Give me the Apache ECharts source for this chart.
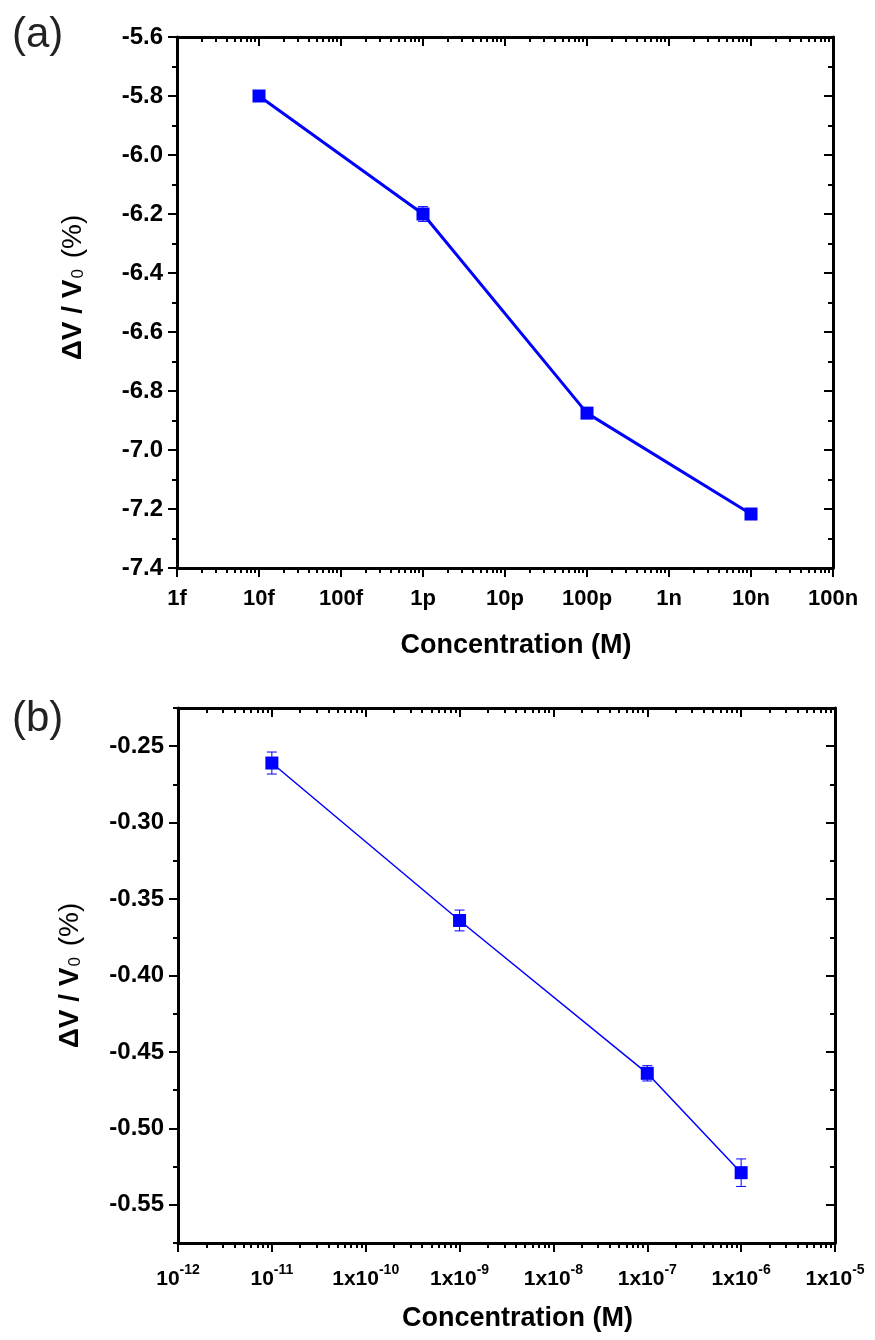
<!DOCTYPE html>
<html>
<head>
<meta charset="utf-8">
<script src="https://cdn.jsdelivr.net/npm/echarts@6/dist/echarts.min.js"></script>
<style>
  html, body { margin: 0; padding: 0; background: #fff; }
  #chart { width: 875px; height: 1340px; }
</style>
</head>
<body>
<div id="chart"></div>
<script>
  // panel (a)
  const topConc = [1e-14, 1e-12, 1e-10, 1e-8];
  const topDV = [-5.80, -6.20, -6.875, -7.217];
  const topErr = [0.01, 0.025, 0.015, 0.01];
  const topExps = [-15, -14, -13, -12, -11, -10, -9, -8, -7];
  const topTickLabels = ['1f', '10f', '100f', '1p', '10p', '100p', '1n', '10n', '100n'];
  const topYTicks = [-7.4, -7.2, -7.0, -6.8, -6.6, -6.4, -6.2, -6.0, -5.8, -5.6];

  // panel (b)
  const botConc = [1e-11, 1e-9, 1e-7, 1e-6];
  const botDV = [-0.261, -0.364, -0.464, -0.529];
  const botErr = [0.0072, 0.0068, 0.005, 0.009];
  const botExps = [-12, -11, -10, -9, -8, -7, -6, -5];
  const botTickLabels = ['10', '10', '1x10', '1x10', '1x10', '1x10', '1x10', '1x10'];
  const botYTicks = [-0.55, -0.50, -0.45, -0.40, -0.35, -0.30, -0.25];
  const botYMinor = [-0.575, -0.525, -0.475, -0.425, -0.375, -0.325, -0.275, -0.225];

  const BLUE = '#0000ff';
  const FONT = '"Liberation Sans", Arial, sans-serif';

  const majors = (exps) => exps.map((e) => Math.pow(10, e));
  const minors = (exps) => {
    const out = [];
    for (let i = 0; i < exps.length - 1; i++) {
      for (let k = 2; k <= 9; k++) out.push(k * Math.pow(10, exps[i]));
    }
    return out;
  };
  const expOf = (v) => Math.round(Math.log10(v));

  const axisLine = { show: true, lineStyle: { color: '#000', width: 3 } };
  const noLine = { show: false };

  // one log x axis (major or minor ticks, bottom or top)
  const logX = (grid, exps, pos, minor, label) => ({
    type: 'log',
    logBase: 10,
    gridIndex: grid,
    position: pos,
    min: Math.pow(10, exps[0]),
    max: Math.pow(10, exps[exps.length - 1]),
    axisLine: minor ? noLine : axisLine,
    splitLine: { show: false },
    minorTick: { show: false },
    axisTick: {
      show: true,
      inside: pos === 'top',
      length: minor ? 5 : 9,
      lineStyle: { color: '#000', width: 2 },
      customValues: minor ? minors(exps) : majors(exps),
    },
    axisLabel: label
      ? Object.assign({ show: true, customValues: majors(exps) }, label)
      : { show: false },
  });

  const topXLabel = {
    margin: 20,
    color: '#000',
    fontFamily: FONT,
    fontWeight: 'bold',
    fontSize: 22,
    formatter: (v) => topTickLabels[topExps.indexOf(expOf(v))],
  };
  const botXLabel = {
    margin: 20,
    color: '#000',
    formatter: (v) => {
      const e = expOf(v);
      return '{b|' + botTickLabels[botExps.indexOf(e)] + '}{s|' + e + '}';
    },
    rich: {
      b: { fontFamily: FONT, fontWeight: 'bold', fontSize: 21, color: '#000', lineHeight: 27, verticalAlign: 'bottom' },
      s: { fontFamily: FONT, fontWeight: 'bold', fontSize: 14, color: '#000', lineHeight: 14, verticalAlign: 'top' },
    },
  };

  const xName = (gap) => ({
    name: 'Concentration (M)',
    nameLocation: 'middle',
    nameGap: gap,
    nameTextStyle: { fontFamily: FONT, fontWeight: 'bold', fontSize: 27, color: '#000', padding: [0, 0, 0, 22] },
  });

  const yName = (gap, shift) => ({
    name: '{b|ΔV / V}{s|0}{r| (%)}',
    nameLocation: 'middle',
    nameRotate: 90,
    nameGap: gap,
    nameTextStyle: {
      padding: [0, 0, 0, shift],
      rich: {
        b: { fontFamily: FONT, fontWeight: 'bold', fontSize: 28, color: '#000', lineHeight: 34, verticalAlign: 'bottom' },
        s: { fontFamily: FONT, fontSize: 17, color: '#000', lineHeight: 17, verticalAlign: 'bottom', padding: [0, 3, 0, 1] },
        r: { fontFamily: FONT, fontSize: 28, color: '#000', lineHeight: 34, verticalAlign: 'bottom' },
      },
    },
  });

  const valY = (grid, min, max, pos, ticks, minor, labelOpt, minorTicks) => ({
    type: 'value',
    gridIndex: grid,
    position: pos,
    min: min,
    max: max,
    axisLine: minor ? noLine : axisLine,
    splitLine: { show: false },
    axisTick: {
      show: true,
      inside: pos === 'right',
      length: minor ? 5 : 9,
      lineStyle: { color: '#000', width: 2 },
      customValues: minor ? minorTicks : ticks,
    },
    axisLabel: labelOpt
      ? Object.assign({ show: true, customValues: ticks, color: '#000', fontFamily: FONT, fontWeight: 'bold' }, labelOpt)
      : { show: false },
  });

  const midpoints = (arr) => {
    const out = [];
    for (let i = 0; i < arr.length - 1; i++) out.push((arr[i] + arr[i + 1]) / 2);
    return out;
  };

  const errorBars = (xi, yi) => ({
    type: 'custom',
    xAxisIndex: xi,
    yAxisIndex: yi,
    z: 1,
    encode: { x: 0, y: 1 },
    renderItem: (params, api) => {
      const x = api.value(0), y = api.value(1), e = api.value(2);
      const hi = api.coord([x, y + e]);
      const lo = api.coord([x, y - e]);
      const w = 5;
      const st = { stroke: BLUE, lineWidth: 1 };
      return {
        type: 'group',
        children: [
          { type: 'line', shape: { x1: hi[0], y1: hi[1], x2: lo[0], y2: lo[1] }, style: st },
          { type: 'line', shape: { x1: hi[0] - w, y1: hi[1], x2: hi[0] + w, y2: hi[1] }, style: st },
          { type: 'line', shape: { x1: lo[0] - w, y1: lo[1], x2: lo[0] + w, y2: lo[1] }, style: st },
        ],
      };
    },
  });

  const option = {
    animation: false,
    backgroundColor: '#fff',
    grid: [
      { left: 177, top: 37, width: 656, height: 531, containLabel: false, outerBoundsMode: 'none' },
      { left: 178, top: 708, width: 657, height: 535, containLabel: false, outerBoundsMode: 'none' },
    ],
    xAxis: [
      Object.assign(logX(0, topExps, 'bottom', false, topXLabel), xName(64)),
      logX(0, topExps, 'bottom', true, null),
      logX(0, topExps, 'top', false, null),
      logX(0, topExps, 'top', true, null),
      Object.assign(logX(1, botExps, 'bottom', false, botXLabel), xName(62)),
      logX(1, botExps, 'bottom', true, null),
      logX(1, botExps, 'top', false, null),
      logX(1, botExps, 'top', true, null),
    ],
    yAxis: [
      Object.assign(
        valY(0, -7.4, -5.6, 'left', topYTicks, false, { fontSize: 24, margin: 14, formatter: (v) => v.toFixed(1) }),
        yName(90, 30)),
      valY(0, -7.4, -5.6, 'left', topYTicks, true, null, midpoints(topYTicks)),
      valY(0, -7.4, -5.6, 'right', topYTicks, false, null),
      valY(0, -7.4, -5.6, 'right', topYTicks, true, null, midpoints(topYTicks)),
      Object.assign(
        valY(1, -0.575, -0.225, 'left', botYTicks, false, { fontSize: 24, margin: 14, formatter: (v) => v.toFixed(2) }),
        yName(94, 0)),
      valY(1, -0.575, -0.225, 'left', botYTicks, true, null, botYMinor),
      valY(1, -0.575, -0.225, 'right', botYTicks, false, null),
      valY(1, -0.575, -0.225, 'right', botYTicks, true, null, botYMinor),
    ],
    graphic: [
      { type: 'text', left: 12, top: 14, style: { text: '(a)', font: '42px ' + FONT, fill: '#222' } },
      { type: 'text', left: 12, top: 698, style: { text: '(b)', font: '42px ' + FONT, fill: '#222' } },
    ],
    series: [
      Object.assign(errorBars(0, 0), { data: topConc.map((c, i) => [c, topDV[i], topErr[i]]) }),
      {
        type: 'line',
        xAxisIndex: 0,
        yAxisIndex: 0,
        z: 3,
        data: topConc.map((c, i) => [c, topDV[i]]),
        symbol: 'rect',
        symbolSize: 13,
        itemStyle: { color: BLUE },
        lineStyle: { color: BLUE, width: 3 },
      },
      Object.assign(errorBars(4, 4), { data: botConc.map((c, i) => [c, botDV[i], botErr[i]]) }),
      {
        type: 'line',
        xAxisIndex: 4,
        yAxisIndex: 4,
        z: 3,
        data: botConc.map((c, i) => [c, botDV[i]]),
        symbol: 'rect',
        symbolSize: 13,
        itemStyle: { color: BLUE },
        lineStyle: { color: BLUE, width: 1.5 },
      },
    ],
  };

  const chart = echarts.init(document.getElementById('chart'), null, { renderer: 'canvas' });
  chart.setOption(option);
</script>
</body>
</html>
